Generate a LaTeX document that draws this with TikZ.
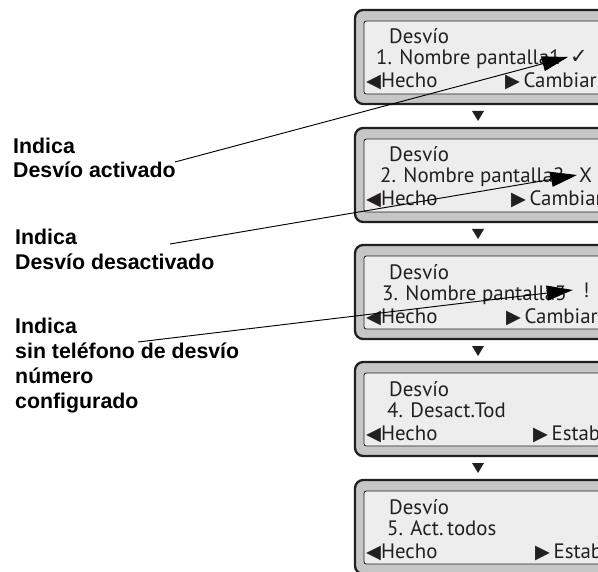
\documentclass[tikz,border=0pt]{standalone}
\usepackage{fontspec}
\setmainfont{PT Sans}
\newfontfamily\labfont{Liberation Sans}
\newfontfamily\symfont{DejaVu Sans}
\usetikzlibrary{arrows.meta,positioning}
\definecolor{InkDark}{HTML}{231F20}
\definecolor{BezelGray}{HTML}{C6C6C6}
\definecolor{LcdGray}{HTML}{EDEDED}
\tikzset{
  bezel/.style={draw=InkDark, line width=2pt, fill=BezelGray, rounded corners=7pt},
  lcd/.style={draw=InkDark, line width=0.7pt, fill=LcdGray, rounded corners=2pt},
  scr/.style={font=\fontsize{17.8}{20}\selectfont, text=InkDark, inner sep=0pt, anchor=base west},
  note/.style={font=\labfont\bfseries\fontsize{18.2}{21.3}\selectfont, align=left,
               inner sep=0pt, anchor=base west},
  flag/.style={font=\fontsize{17.8}{20}\selectfont, text=InkDark, inner sep=1.5pt, anchor=west},
  pointer/.style={line width=0.8pt, draw=black, -{Triangle[length=7.8mm, width=4.5mm]}},
}
\newcommand{\ltri}{{\symfont\fontsize{16.5}{16.5}\selectfont ◀}}
\newcommand{\rtri}{{\symfont\fontsize{16.5}{16.5}\selectfont ▶}}

\begin{document}
\begin{tikzpicture}[x=0.03cm, y=-0.03cm]
\useasboundingbox (0,0) rectangle (598,572);
\clip (0,0) rectangle (598,572);
% ---------------------------------------------------------------- screens
\foreach \n/\T/\lx/\item/\rx/\soft in {
  1/10/376/{1. Nombre pantalla1}/505/Cambiar,
  2/128/380/{2. Nombre pantalla2}/511/Cambiar,
  3/245/382/{3. Nombre pantalla3}/506/Cambiar,
  4/362/387/{4. Desact.Tod}/533/Estab,
  5/480/387/{5. Act.\,todos}/535/Estab} {
  \draw[bezel] (355,\T) rectangle (625,\T+94);
  \draw[lcd] (364,\T+11) rectangle (625,\T+84);
  \node[scr] (title\n) at (389,\T+34) {Desvío};
  \node[scr] (item\n) at (\lx,\T+55) {\item};
  \node[scr] (done\n) at (366,\T+78) {\ltri Hecho};
  \node[scr] (soft\n) at (\rx,\T+78) {\rtri\,\soft};
}
\foreach \T in {10,128,245,362} {\fill[InkDark] (472,\T+101) -- (484,\T+101) -- (478,\T+111) -- cycle;}
% ---------------------------------------------------------------- status marks
\node[flag] (flagA) at (568,57) {\symfont ✓};
\node[flag] (flagB) at (577,175) {X};
\node[flag] (flagC) at (581,290) {!};
% ---------------------------------------------------------------- notes (base = last line)
\node[note] (noteA) at (13,178) {Indica\\Desvío activado};
\node[note] (noteB) at (15,269) {Indica\\Desvío desactivado};
\node[note] (noteC) at (15,408) {Indica\\sin teléfono de desvío\\número\\configurado};
\coordinate (srcA) at (175,162);
\coordinate (srcB) at (170,244);
\coordinate (srcC) at (138,342);
\draw[pointer] (srcA) -- (flagA.west);
\draw[pointer] (srcB) -- (flagB.west);
\draw[pointer] (srcC) -- ([xshift=-7pt]flagC.west);
\end{tikzpicture}
\end{document}
